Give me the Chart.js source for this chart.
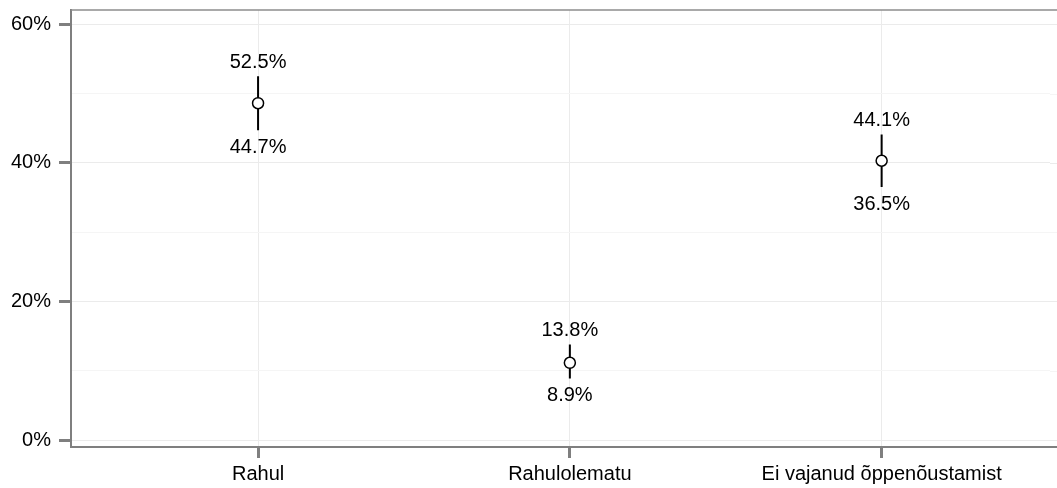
<!DOCTYPE html>
<html>
<head>
<meta charset="utf-8">
<script src="https://cdn.jsdelivr.net/npm/chart.js@4/dist/chart.umd.min.js"></script>
<style>
  body { margin: 0; background: #fff; }
</style>
</head>
<body>
<canvas id="chart" width="1057" height="488"></canvas>
<script>
const categories = ["Rahul", "Rahulolematu", "Ei vajanud õppenõustamist"];
const estimate = [48.6, 11.15, 40.3];
const lower = [44.7, 8.9, 36.5];
const upper = [52.5, 13.8, 44.1];
const yTicks = [0, 10, 20, 30, 40, 50, 60];

const fontFamily = "'Liberation Sans', Arial, sans-serif";

// error bar segments, split by nulls
const barData = [];
categories.forEach((c, i) => {
  barData.push({ x: i, y: lower[i] });
  barData.push({ x: i, y: upper[i] });
  barData.push({ x: i, y: null });
});

const pointData = estimate.map((v, i) => ({ x: i, y: v }));

const gridColor = (v) => (v % 20 === 0 ? "#ebebeb" : "#f5f5f5");

const framePlugin = {
  id: "frame",
  beforeDatasetsDraw(chart) {
    const { ctx, chartArea } = chart;
    const ys = chart.scales.y;
    ctx.save();
    // the panel runs off the right edge of the picture
    ctx.lineWidth = 1;
    yTicks.forEach((v) => {
      const py = Math.round(ys.getPixelForValue(v)) + 0.5;
      ctx.strokeStyle = gridColor(v);
      ctx.beginPath();
      ctx.moveTo(chartArea.right, py);
      ctx.lineTo(chart.width, py);
      ctx.stroke();
    });
    ctx.strokeStyle = "#8c8c8c";
    ctx.lineWidth = 1.5;
    ctx.beginPath();
    ctx.moveTo(chartArea.left, chartArea.top);
    ctx.lineTo(chart.width, chartArea.top);
    ctx.stroke();
    ctx.strokeStyle = "#7f7f7f";
    ctx.lineWidth = 2;
    ctx.beginPath();
    ctx.moveTo(chartArea.right - 2, Math.round(chartArea.bottom));
    ctx.lineTo(chart.width, Math.round(chartArea.bottom));
    ctx.stroke();
    ctx.restore();
  },
  afterDatasetsDraw(chart) {
    const { ctx } = chart;
    const xs = chart.scales.x;
    const ys = chart.scales.y;
    ctx.save();
    ctx.fillStyle = "#000";
    ctx.font = "20px " + fontFamily;
    ctx.textAlign = "center";
    ctx.textBaseline = "alphabetic";
    categories.forEach((c, i) => {
      const px = xs.getPixelForValue(i);
      ctx.fillText(upper[i].toFixed(1) + "%", px, ys.getPixelForValue(upper[i]) - 8);
      ctx.fillText(lower[i].toFixed(1) + "%", px, ys.getPixelForValue(lower[i]) + 23);
    });
    ctx.restore();
  }
};

new Chart(document.getElementById("chart"), {
  type: "line",
  data: {
    datasets: [
      {
        data: barData,
        borderColor: "#000",
        borderWidth: 2,
        pointRadius: 0,
        spanGaps: false,
        fill: false,
        order: 2
      },
      {
        type: "scatter",
        data: pointData,
        pointRadius: 5.5,
        pointBackgroundColor: "#fff",
        pointBorderColor: "#000",
        pointBorderWidth: 1.5,
        order: 1
      }
    ]
  },
  options: {
    responsive: false,
    animation: false,
    layout: { padding: { top: 10, left: 0, right: 0, bottom: 0 } },
    plugins: {
      legend: { display: false },
      tooltip: { enabled: false }
    },
    scales: {
      x: {
        type: "linear",
        min: -0.6,
        max: 2.54,
        afterBuildTicks: (s) => { s.ticks = [0, 1, 2].map(v => ({ value: v })); },
        afterFit: (s) => { s.height = 41; s.paddingLeft = 0; s.paddingRight = 0; },
        ticks: {
          callback: (v) => categories[v],
          color: "#000",
          font: { family: fontFamily, size: 20 },
          padding: 4,
          maxRotation: 0,
          autoSkip: false
        },
        grid: {
          color: "#ebebeb",
          lineWidth: 1,
          tickLength: 11,
          tickColor: "#7f7f7f",
          tickWidth: 3
        },
        border: { display: true, color: "#7f7f7f", width: 2 }
      },
      y: {
        min: -1,
        max: 62.05,
        afterBuildTicks: (s) => { s.ticks = yTicks.map(v => ({ value: v })); },
        afterFit: (s) => { s.width = 71; s.paddingTop = 0; s.paddingBottom = 0; },
        ticks: {
          callback: (v) => (v % 20 === 0 ? v + "%" : ""),
          color: "#000",
          font: { family: fontFamily, size: 20 },
          padding: 8,
          autoSkip: false
        },
        grid: {
          color: (c) => gridColor(c.tick ? c.tick.value : 0),
          lineWidth: 1,
          tickLength: 12,
          tickColor: (c) => (c.tick && c.tick.value % 20 === 0 ? "#7f7f7f" : "rgba(0,0,0,0)"),
          tickWidth: 3
        },
        border: { display: true, color: "#7f7f7f", width: 2 }
      }
    }
  },
  plugins: [framePlugin]
});
</script>
</body>
</html>
